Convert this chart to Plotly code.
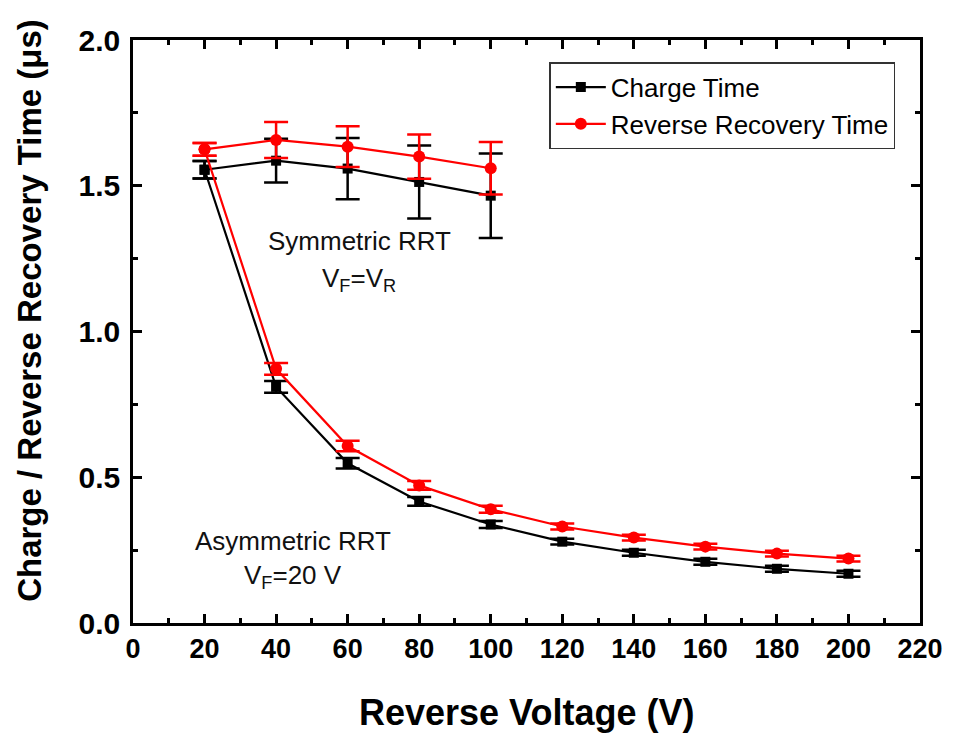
import plotly.graph_objects as go

# Symmetric RRT (V_F = V_R)
sym_v = [20, 40, 60, 80, 100]
sym_charge = [1.555, 1.586, 1.559, 1.513, 1.466]
sym_charge_err = [0.03, 0.075, 0.105, 0.125, 0.145]
sym_rrt = [1.625, 1.657, 1.634, 1.600, 1.560]
sym_rrt_err = [0.022, 0.062, 0.07, 0.076, 0.09]

# Asymmetric RRT (V_F = 20 V)
asym_v = [20, 40, 60, 80, 100, 120, 140, 160, 180, 200]
asym_charge = [1.555, 0.81, 0.548, 0.417, 0.338, 0.279, 0.241, 0.21, 0.186, 0.169]
asym_charge_err = [0.03, 0.02, 0.018, 0.015, 0.012, 0.01, 0.01, 0.01, 0.01, 0.01]
asym_rrt = [1.625, 0.872, 0.607, 0.472, 0.39, 0.331, 0.293, 0.262, 0.238, 0.221]
asym_rrt_err = [0.022, 0.02, 0.018, 0.015, 0.012, 0.01, 0.01, 0.01, 0.01, 0.01]

x_ticks = list(range(0, 221, 20))
y_ticks = [0.0, 0.5, 1.0, 1.5, 2.0]
x_title = "Reverse Voltage (V)"
y_title = "Charge / Reverse Recovery Time (μs)"

BLACK = "#000000"
RED = "#ff0000"
FONT = "Liberation Sans, Arial, sans-serif"

fig = go.Figure()

def add(x, y, err, color, symbol, size, name, show):
    fig.add_trace(go.Scatter(
        x=x, y=y, mode="lines+markers", name=name, showlegend=show,
        line=dict(color=color, width=2.2),
        marker=dict(symbol=symbol, size=size, color=color),
        error_y=dict(type="data", array=err, visible=True, color=color,
                     thickness=2.5, width=12),
    ))

add(asym_v, asym_charge, asym_charge_err, BLACK, "square", 10, "Charge Time", True)
add(sym_v, sym_charge, sym_charge_err, BLACK, "square", 10, "Charge Time", False)
add(asym_v, asym_rrt, asym_rrt_err, RED, "circle", 12, "Reverse Recovery Time", True)
add(sym_v, sym_rrt, sym_rrt_err, RED, "circle", 12, "Reverse Recovery Time", False)

ann_font = dict(family=FONT, size=26, color="#111111")
fig.add_annotation(x=63.2, y=1.31, text="Symmetric RRT", showarrow=False, font=ann_font)
fig.add_annotation(x=63.2, y=1.18, text="V<sub>F</sub>=V<sub>R</sub>", showarrow=False, font=ann_font)
fig.add_annotation(x=44.7, y=0.283, text="Asymmetric RRT", showarrow=False, font=ann_font)
fig.add_annotation(x=44.7, y=0.16, text="V<sub>F</sub>=20 V", showarrow=False, font=ann_font)

# axis titles as paper annotations for exact placement
fig.add_annotation(xref="paper", yref="paper", x=0.5006, y=-0.154, xanchor="center", yanchor="middle",
                   text="<b>" + x_title + "</b>", showarrow=False,
                   font=dict(family=FONT, size=36, color="black"))
fig.add_annotation(xref="paper", yref="paper", x=-0.131, y=0.537, xanchor="center", yanchor="middle",
                   text="<b>" + y_title + "</b>", textangle=-90, showarrow=False,
                   font=dict(family=FONT, size=33, color="black"))

axis_common = dict(
    showline=True, linewidth=2.5, linecolor="black", mirror="allticks",
    ticks="inside", ticklen=9, tickwidth=2.5, tickcolor="black",
    showgrid=False, zeroline=False, automargin=False,
)

fig.update_xaxes(
    **axis_common,
    range=[0, 220], tickvals=x_ticks, ticktext=[str(v) for v in x_ticks],
    tickfont=dict(family=FONT, size=27, color="black", weight="bold"),
    minor=dict(dtick=10, ticks="inside", ticklen=5, tickwidth=2.5, tickcolor="black"),
)
fig.update_yaxes(
    **axis_common,
    range=[0, 2], tickvals=y_ticks, ticktext=["0.0", "0.5", "1.0", "1.5", "2.0"],
    tickfont=dict(family=FONT, size=30, color="black", weight="bold"),
    ticklabelstandoff=4,
    minor=dict(dtick=0.25, ticks="inside", ticklen=5, tickwidth=2.5, tickcolor="black"),
)

fig.update_layout(
    width=957, height=733,
    margin=dict(l=133, r=37, t=40, b=110),
    plot_bgcolor="white", paper_bgcolor="white",
    legend=dict(
        x=0.529, y=0.962, xanchor="left", yanchor="top",
        bgcolor="white", bordercolor="#333333", borderwidth=1.5,
        font=dict(family=FONT, size=26, color="black"),
        tracegroupgap=0, itemwidth=50,
    ),
)

fig.write_html("out.html")
